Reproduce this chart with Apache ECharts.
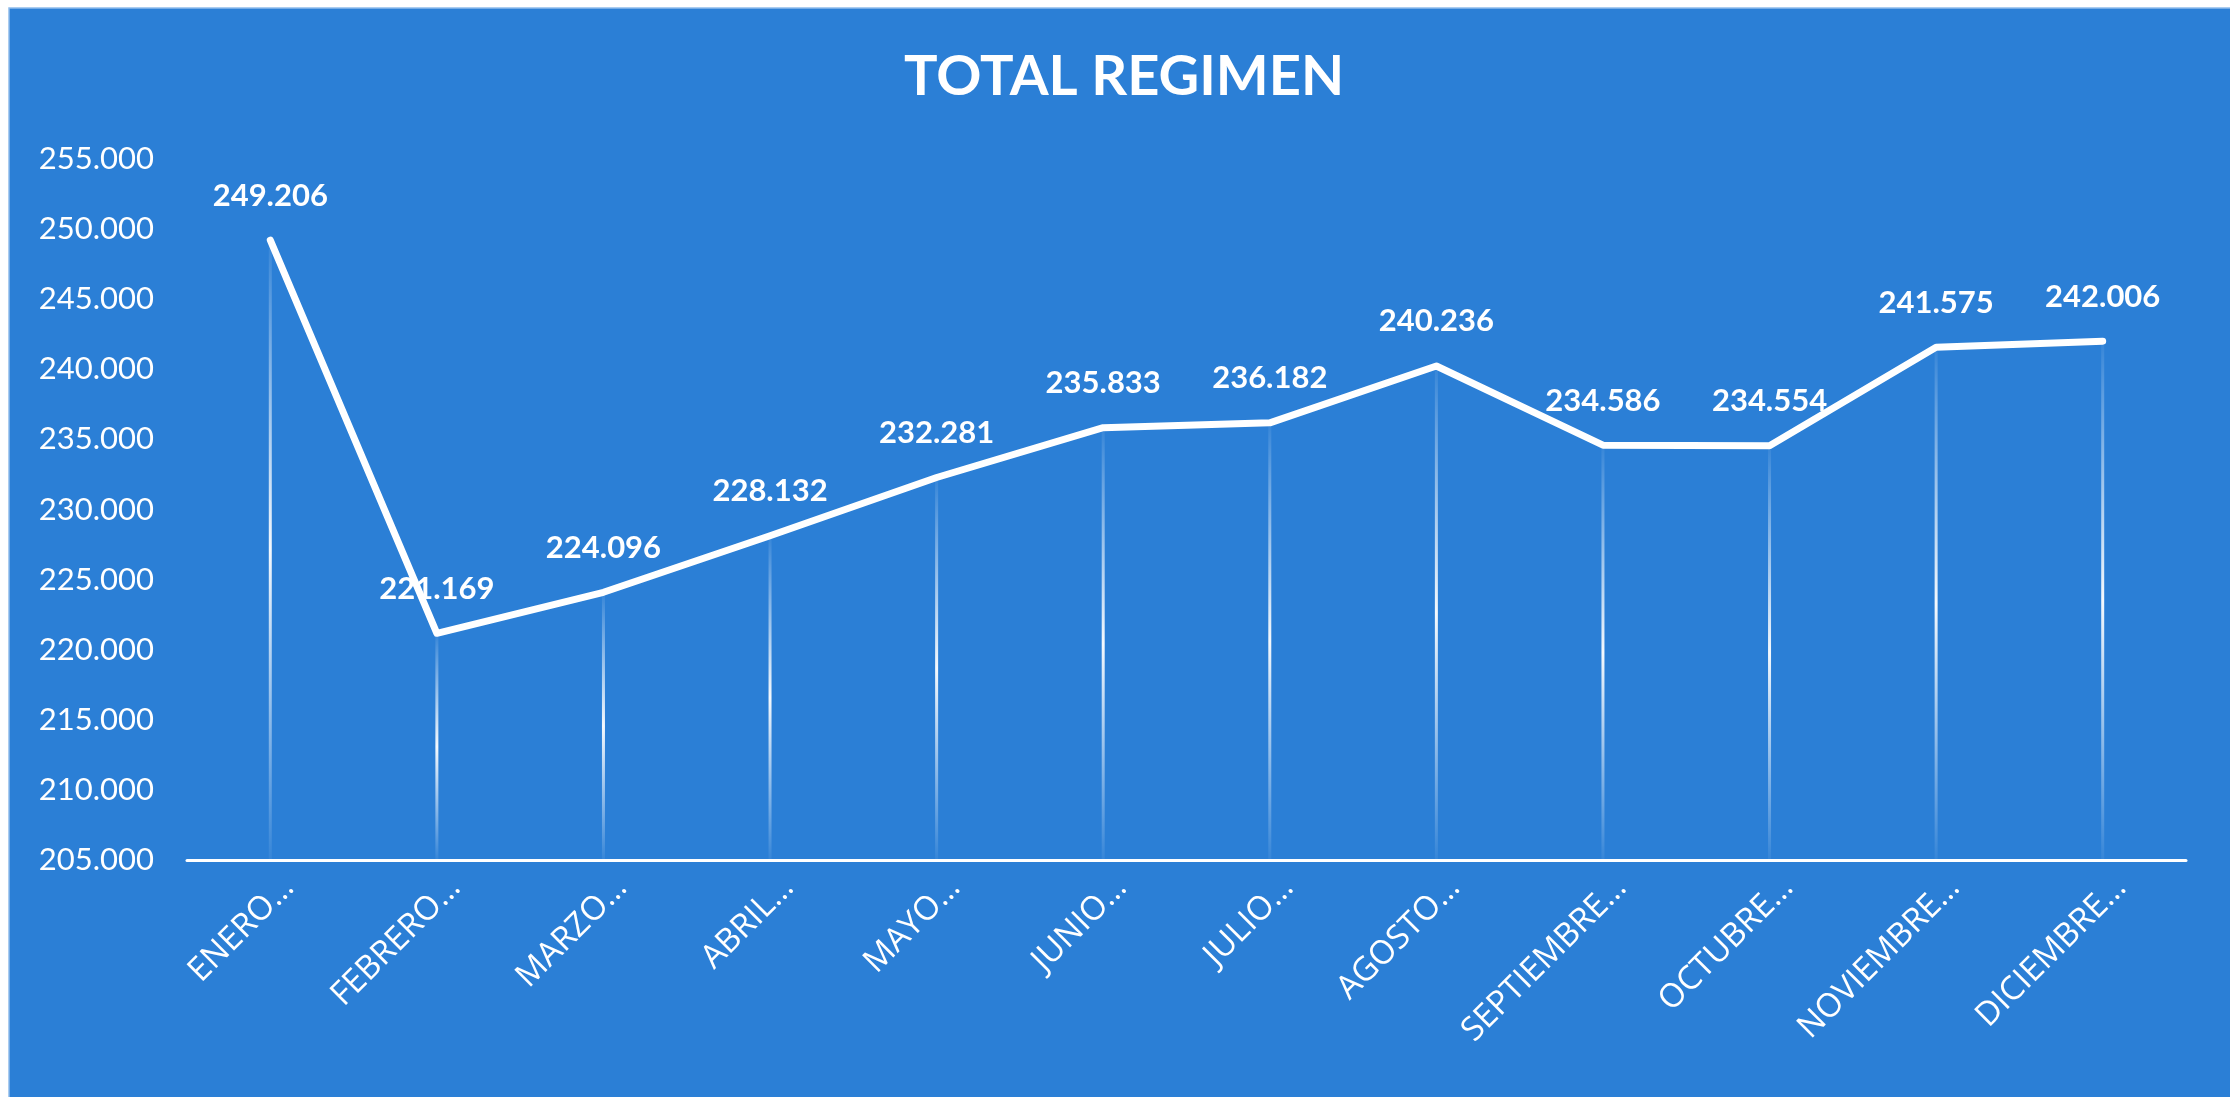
<!DOCTYPE html>
<html lang="es">
<head>
    <meta charset="UTF-8">
    <title>Total Regimen</title>
    <script src="https://cdn.jsdelivr.net/npm/echarts@6/dist/echarts.min.js"></script>
    <style>
        html, body { margin: 0; padding: 0; background: #ffffff; }
        #main { width: 2230px; height: 1097px; }
    </style>
</head>
<body>
<div id="main"></div>
<script type="text/javascript">
    // datos
    var meses = ['ENERO…', 'FEBRERO…', 'MARZO…', 'ABRIL…', 'MAYO…', 'JUNIO…',
                 'JULIO…', 'AGOSTO…', 'SEPTIEMBRE…', 'OCTUBRE…', 'NOVIEMBRE…', 'DICIEMBRE…'];
    var totales = [249206, 221169, 224096, 228132, 232281, 235833,
                   236182, 240236, 234586, 234554, 241575, 242006];
    var yMin = 205000, yMax = 255000, yStep = 5000;

    // 249206 -> "249.206"
    function miles(v) {
        var r = String(Math.round(v) % 1000);
        while (r.length < 3) r = '0' + r;
        return Math.floor(Math.round(v) / 1000) + '.' + r;
    }

    var fondo = '#2B7FD6';
    var fuente = 'Lato, "Open Sans", sans-serif';

    var myChart = echarts.init(document.getElementById('main'));
    var option = {
        animation: false,
        backgroundColor: '#ffffff',
        graphic: [{
            type: 'rect',
            z: -10,
            shape: { x: 9, y: 8, width: 2230, height: 1100 },
            style: { fill: fondo, stroke: '#8fbcec', lineWidth: 1.5 }
        }],
        title: {
            text: 'TOTAL REGIMEN',
            left: 1119,
            textAlign: 'center',
            top: 44,
            textStyle: { color: '#ffffff', fontSize: 56, fontWeight: 'bold', fontFamily: fuente }
        },
        grid: { left: 187, right: 44, top: 159, bottom: 237 },
        xAxis: {
            type: 'category',
            data: meses,
            boundaryGap: true,
            axisLine: { lineStyle: { color: '#ffffff', width: 3 } },
            axisTick: { show: false },
            axisLabel: {
                color: '#ffffff',
                fontSize: 33,
                lineHeight: 52,
                fontFamily: '"Open Sans", Lato, sans-serif',
                rotate: 45,
                margin: 4,
                verticalAlign: 'top',
                interval: 0
            }
        },
        yAxis: {
            type: 'value',
            min: yMin,
            max: yMax,
            interval: yStep,
            axisLine: { show: false },
            axisTick: { show: false },
            splitLine: { show: false },
            axisLabel: {
                color: '#ffffff',
                fontSize: 31,
                fontFamily: fuente,
                margin: 33,
                formatter: function (v) { return miles(v); }
            }
        },
        series: [
            {
                // lineas de caida con degradado
                name: 'caida',
                type: 'bar',
                data: totales,
                barWidth: 3,
                silent: true,
                z: 1,
                itemStyle: {
                    color: new echarts.graphic.LinearGradient(0, 0, 0, 1, [
                        { offset: 0, color: 'rgba(255,255,255,0.05)' },
                        { offset: 0.5, color: 'rgba(255,255,255,0.95)' },
                        { offset: 1, color: 'rgba(255,255,255,0.05)' }
                    ])
                }
            },
            {
                name: 'TOTAL REGIMEN',
                type: 'line',
                data: totales,
                z: 3,
                showSymbol: true,
                symbol: 'circle',
                symbolSize: 2,
                itemStyle: { color: '#ffffff' },
                lineStyle: { color: '#ffffff', width: 7, cap: 'round', join: 'round' },
                label: {
                    show: true,
                    position: 'top',
                    distance: 28,
                    color: '#ffffff',
                    fontSize: 31,
                    fontWeight: 'bold',
                    fontFamily: fuente,
                    formatter: function (p) { return miles(p.value); }
                }
            }
        ]
    };
    myChart.setOption(option);
</script>
</body>
</html>
